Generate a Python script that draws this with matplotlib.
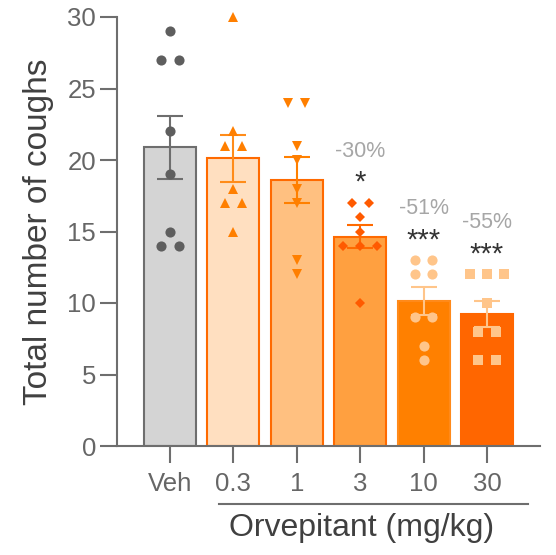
import numpy as np
import matplotlib
matplotlib.use("Agg")
import matplotlib.pyplot as plt
import matplotlib.transforms as mtransforms
from matplotlib.lines import Line2D

plt.rcParams["font.family"] = ["Liberation Sans", "DejaVu Sans"]

# Individual animal cough counts per treatment group
groups = ["Veh", "0.3", "1", "3", "10", "30"]
veh = [29, 27, 27, 22, 19, 15, 14, 14]
dose_03 = [30, 22, 21, 21, 18, 17, 17, 15]
dose_1 = [24, 24, 21, 20, 18, 17, 13, 12]
dose_3 = [17, 17, 16, 15, 14, 14, 14, 10]
dose_10 = [13, 13, 12, 12, 9, 9, 7, 6]
dose_30 = [12, 12, 12, 10, 8, 8, 6, 6]
pct_labels = ["", "", "", "-30%", "-51%", "-55%"]
sig_labels = ["", "", "", "*", "***", "***"]

data = [veh, dose_03, dose_1, dose_3, dose_10, dose_30]

# Styling per group
fills = ["#d4d4d4", "#ffdfc0", "#ffc080", "#ffa040", "#ff8000", "#ff6600"]
edges = ["#6e6e6e", "#ff6a00", "#ff6a00", "#ff6a00", "#ff8a1a", "#ff6600"]
err_colors = ["#6e6e6e", "#ff8c1a", "#ff8000", "#ff6a00", "#ffc58a", "#ffc58a"]
pt_colors = ["#5e5e5e", "#ff7f00", "#ff7f00", "#ff5a00", "#ffc58a", "#ffc58a"]
markers = ["o", "^", "v", "D", "o", "s"]
msizes = [7.3, 7.3, 7.3, 5.0, 7.3, 6.8]

axis_col = "#6e6e6e"
tick_col = "#666666"
label_col = "#404040"

fig = plt.figure(figsize=(5.56, 5.55), dpi=100)
ax = fig.add_axes([117 / 556, 1 - 446 / 555, (540 - 117) / 556, (446 - 17) / 555])

x = np.arange(len(groups))
means = np.array([np.mean(d) for d in data])
sems = np.array([np.std(d, ddof=1) / np.sqrt(len(d)) for d in data])

ax.bar(x, means, width=0.82, color=fills, edgecolor=edges, linewidth=1.5, zorder=2)

for i in range(len(groups)):
    ax.errorbar(x[i], means[i], yerr=sems[i], fmt="none", ecolor=err_colors[i],
                elinewidth=1.5, capsize=9.4, capthick=1.5, zorder=3, clip_on=False)

# Spread tied values side by side
spacing = 0.27
for i, vals in enumerate(data):
    vals = np.array(vals)
    xs = np.zeros(len(vals), dtype=float)
    for v in np.unique(vals):
        idx = np.where(vals == v)[0]
        n = len(idx)
        xs[idx] = x[i] + (np.arange(n) - (n - 1) / 2) * spacing
    ax.plot(xs, vals, linestyle="none", marker=markers[i], ms=msizes[i],
            color=pt_colors[i], markeredgewidth=0, zorder=4, clip_on=False)

# Reduction and significance annotations
for i in range(len(groups)):
    top = max(data[i])
    if pct_labels[i]:
        ax.text(x[i], top + 3.6, pct_labels[i], ha="center", va="center",
                fontsize=15.5, color="#a6a6a6")
    if sig_labels[i]:
        ax.text(x[i], top + 1.4, sig_labels[i], ha="center", va="center",
                fontsize=21, color="#333333")

ax.set_xlim(-0.836, 5.836)
ax.set_ylim(0, 30)
ax.set_yticks([0, 5, 10, 15, 20, 25, 30])
ax.set_xticks(x)
ax.set_xticklabels(groups)

for side in ["top", "right"]:
    ax.spines[side].set_visible(False)
for side in ["left", "bottom"]:
    ax.spines[side].set_color(axis_col)
    ax.spines[side].set_linewidth(1.5)

ax.tick_params(axis="both", length=12, width=1.5, color=axis_col,
               labelsize=18.5, labelcolor=tick_col, pad=3)
ax.tick_params(axis="x", pad=7)

ax.set_ylabel("Total number of coughs", fontsize=24, color=label_col, va="center")
ax.yaxis.set_label_coords(-0.185, 0.5)

# Group bracket under the dose labels
trans = mtransforms.blended_transform_factory(ax.transData, ax.transAxes)
ax.add_line(Line2D([0.773, 5.647], [-0.135, -0.135], transform=trans,
                   color=axis_col, linewidth=1.5, clip_on=False))
ax.text(3.02, -0.191, "Orvepitant (mg/kg)", transform=trans, ha="center", va="center",
        fontsize=23, color=label_col)

fig.savefig("out.png", dpi=100)
